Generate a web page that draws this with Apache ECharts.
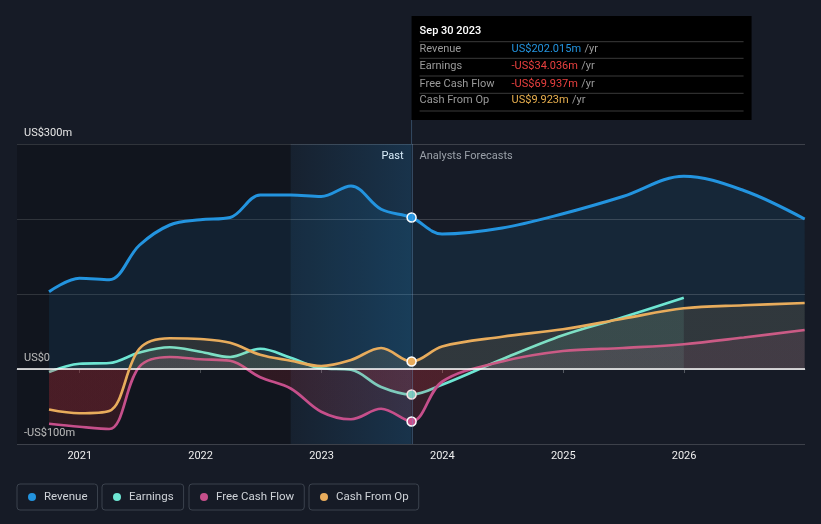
<!DOCTYPE html>
<html>
<head>
<meta charset="utf-8">
<script src="https://cdn.jsdelivr.net/npm/echarts@6/dist/echarts.min.js"></script>
<style>
html,body{margin:0;padding:0;background:#161b26;}
#c{width:821px;height:524px;}
</style>
</head>
<body>
<div id="c"></div>
<script>
// ---------- data ----------
const pastDates = ['2020-09-30','2020-12-31','2021-03-31','2021-06-30','2021-09-30','2021-12-31','2022-03-31','2022-06-30','2022-09-30','2022-12-31','2023-03-31','2023-06-30','2023-09-30'];
const forecastDates = ['2023-12-31','2024-06-30','2024-12-31','2025-06-30','2025-12-31','2026-06-30','2026-12-31'];

const revenuePast  = [103,121,119,165,192,199,202,232,232,230,244,213,202];
const revenueFcst  = [180,188,207,230,257,238,200];
const earningsPast = [-4,7,8,22,29,23,16,27,15,1,-1,-24,-34];
const earningsFcst = [-21,13,45,69,95,null,null];
const fcfPast      = [-73,-77,-80,3,16,13,11,-11,-26,-57,-67,-53,-70];
const fcfFcst      = [-17,10,24,28,33,42,52];
const cfoPast      = [-54,-59,-56,27,41,40,35,19,11,4,12,28,10];
const cfoFcst      = [30,43,53,67,81,85,88];

const seriesNames = ['Revenue','Earnings','Free Cash Flow','Cash From Op'];
const seriesColors = ['#2394df','#6ee6d3','#c64f8b','#e8ac5c'];
const yTickLabels = {'300':'US$300m','0':'US$0','-100':'-US$100m'};
const xTickYears = [2021,2022,2023,2024,2025,2026];
const xRangeDates = ['2020-06-25','2027-01-01'];

const bandStart = '2022-09-30';
const nowDate = '2023-09-30';
const tipTitle = 'Sep 30 2023';
const tipLabels = ['Revenue','Earnings','Free Cash Flow','Cash From Op'];
const tipValues = ['US$202.015m','-US$34.036m','-US$69.937m','US$9.923m'];
const tipColors = ['#2394df','#e8403f','#e8403f','#e9b04f'];

// ---------- build ----------
function toYear(s){
  const p = s.split('-').map(Number);
  const y = p[0];
  const start = Date.UTC(y,0,1), end = Date.UTC(y+1,0,1);
  return y + (Date.UTC(y,p[1]-1,p[2]) - start) / (end - start);
}
const allDates = pastDates.concat(forecastDates);
const nowIdx = pastDates.length - 1;
function build(past, fcst){
  const vals = past.concat(fcst);
  const out = [];
  vals.forEach((v,i)=>{
    if (v === null) return;
    const x = toYear(allDates[i]);
    if (i === nowIdx) {
      out.push({value:[x, v], symbol:'circle', symbolSize:9});
    } else {
      out.push([x, v]);
    }
  });
  return out;
}
const seriesData = [
  build(revenuePast, revenueFcst),
  build(earningsPast, earningsFcst),
  build(fcfPast, fcfFcst),
  build(cfoPast, cfoFcst)
];

const xMin = toYear(xRangeDates[0]);
const xMax = toYear(xRangeDates[1]);
const legendLefts = [17,102,189,309];

const chart = echarts.init(document.getElementById('c'), null, {renderer:'canvas'});

const base = {
  backgroundColor:'#161b26',
  animation:false,
  textStyle:{fontFamily:'Roboto, "DejaVu Sans", sans-serif'},
  grid:{left:17,right:16,top:144,bottom:80},
  xAxis:{
    type:'value', min:xMin, max:xMax,
    axisLine:{show:true,lineStyle:{color:'#555a62',width:1}},
    axisTick:{show:true,customValues:xTickYears,length:4,lineStyle:{color:'#555a62'}},
    axisLabel:{customValues:xTickYears,color:'#eeeeee',fontSize:11,margin:7,
      formatter:function(v){return String(Math.round(v));}},
    splitLine:{show:false}
  },
  yAxis:{
    type:'value', min:-100, max:300, interval:100,
    axisLine:{show:false}, axisTick:{show:false},
    axisLabel:{inside:true,margin:7,color:'#e6e6e6',fontSize:11,verticalAlign:'bottom',padding:[0,0,5,0],
      formatter:function(v){return yTickLabels[String(v)] || '';}},
    splitLine:{show:true,lineStyle:{color:'rgba(255,255,255,0.17)',width:1}}
  },
  legend: seriesNames.map((n,i)=>({
    data:[{name:n,icon:'circle',itemStyle:{borderWidth:0}}], left:legendLefts[i], top:484,
    itemWidth:8,itemHeight:8,
    itemStyle:{borderWidth:0},
    padding:[7,10,7,11],
    borderColor:'#3b424d',borderWidth:1,borderRadius:3,
    textStyle:{color:'#cfd3d8',fontSize:11.5,padding:[0,0,0,3]}
  })),
  series: seriesNames.map((n,i)=>({
    name:n, type:'line', data:seriesData[i],
    smooth:0.35,
    symbol:'none', showSymbol:true, showAllSymbol:true,
    lineStyle:{color:seriesColors[i],width:i===0?3:2.7},
    itemStyle:{color:seriesColors[i],borderColor:'#ffffff',borderWidth:1.5},
    color:seriesColors[i],
    z:2+i
  }))
};
chart.setOption(base);

const zeroY = chart.convertToPixel({yAxisIndex:0}, 0);
const H = 524;
const zo = zeroY / H;
const neg = 'rgba(214,48,58,0.22)';
function areaGrad(c){
  return new echarts.graphic.LinearGradient(0,0,0,H,[
    {offset:0,color:c},{offset:zo,color:c},{offset:zo,color:neg},{offset:1,color:neg}
  ], true);
}
const areaCols = ['rgba(35,148,223,0.14)','rgba(110,230,211,0.16)','rgba(198,79,139,0.16)','rgba(232,172,92,0.18)'];

const nowV = toYear(nowDate);
const bandV = toYear(bandStart);
const nowX = chart.convertToPixel({xAxisIndex:0}, nowV);
const gridTop = chart.convertToPixel({yAxisIndex:0}, 300);

chart.setOption({
  series:[
    {areaStyle:{color:areaCols[0]},
     markArea:{silent:true,data:[
       [{xAxis:xMin,itemStyle:{color:'rgba(0,0,0,0.2)'}},{xAxis:bandV}],
       [{xAxis:bandV,itemStyle:{color:new echarts.graphic.LinearGradient(0,0,1,0,[{offset:0,color:'rgba(35,148,223,0.05)'},{offset:1,color:'rgba(35,148,223,0.2)'}])}},{xAxis:nowV}]
     ]},
     markLine:{silent:true,symbol:'none',label:{show:false},data:[
       {xAxis:nowV,lineStyle:{color:'rgba(110,160,210,0.35)',width:1,type:'solid'}},
       {yAxis:0,lineStyle:{color:'#ffffff',width:1.5,type:'solid'}}
     ]}},
    {areaStyle:{color:areaGrad(areaCols[1])}},
    {areaStyle:{color:areaGrad(areaCols[2])}},
    {areaStyle:{color:areaGrad(areaCols[3])}}
  ],
  graphic:[
    {type:'line',shape:{x1:nowX,y1:120,x2:nowX,y2:gridTop},style:{stroke:'rgba(110,160,210,0.35)',lineWidth:1},silent:true},
    {type:'text',x:nowX-8,y:156,style:{text:'Past',fill:'#ffffff',font:'11px Roboto',textAlign:'right',textVerticalAlign:'middle'}},
    {type:'text',x:nowX+8,y:156,style:{text:'Analysts Forecasts',fill:'#9aa0a8',font:'11px Roboto',textAlign:'left',textVerticalAlign:'middle'}},
    {type:'group',x:nowX,y:16,children:[
      {type:'rect',shape:{x:0,y:0,width:340,height:104},style:{fill:'#000000'}},
      {type:'text',x:8,y:15,style:{text:tipTitle,fill:'#ffffff',font:'500 11px Roboto',textVerticalAlign:'middle'}}
    ].concat([25.7,42.3,60,77.3,95].map(yy=>({type:'line',shape:{x1:8,y1:yy,x2:332,y2:yy},style:{stroke:'#3a3a3a',lineWidth:1}})))
     .concat(tipLabels.map((l,i)=>({type:'text',x:8,y:[33.3,50,68,84.7][i],style:{text:l,fill:'#9a9a9a',font:'11px Roboto',textVerticalAlign:'middle'}})))
     .concat(tipValues.map((v,i)=>({type:'text',x:100,y:[33.3,50,68,84.7][i],style:{
        text:'{v|'+v+'} {u|/yr}',textVerticalAlign:'middle',
        rich:{v:{fill:tipColors[i],font:'11px Roboto'},u:{fill:'#9a9a9a',font:'11px Roboto'}}}})))
    }
  ]
});
</script>
</body>
</html>
